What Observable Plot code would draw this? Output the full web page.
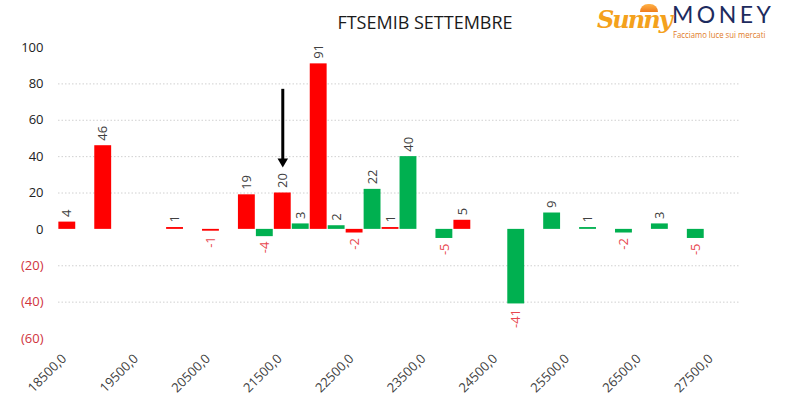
<!DOCTYPE html>
<html><head><meta charset="utf-8">
<script src="https://cdn.jsdelivr.net/npm/d3@7"></script>
<script src="https://cdn.jsdelivr.net/npm/@observablehq/plot@0.6"></script>
<style>
body{margin:0;background:#fff;font-family:"Open Sans",sans-serif}
#wrap{position:relative;width:785px;height:399px;overflow:hidden;background:#fff}
#chart{position:absolute;left:0;top:0}
#title{position:absolute;left:0;width:850px;top:10px;text-align:center;font-size:18px;color:#1a1a1a;z-index:2}
#sun{position:absolute;left:640px;top:4px;width:18px;height:8px;border-radius:9px 9px 0 0;background:linear-gradient(#ffb347,#f07c1c);z-index:2}
#sunny{position:absolute;left:597px;top:5px;font-family:"DejaVu Serif",serif;font-style:italic;font-weight:bold;font-size:24px;color:#f4a11c;letter-spacing:-2px;z-index:3}
#money{position:absolute;left:672px;top:0px;font-family:"Lato",sans-serif;font-size:23px;letter-spacing:3.5px;color:#1d2b5e;z-index:2}
#tag{position:absolute;left:673px;top:27.8px;font-family:"Open Sans",sans-serif;font-size:9px;color:#e07a1f;white-space:nowrap;transform:scaleX(0.86);transform-origin:0 0;z-index:2}
</style></head><body>
<div id="wrap">
<div id="title">FTSEMIB SETTEMBRE</div>
<div id="sun"></div>
<div id="sunny">Sunny</div>
<div id="money">MONEY</div>
<div id="tag">Facciamo luce sui mercati</div>
<div id="chart"></div>
</div>
<script>
// categories (strike prices, step 250)
const strikes = [18500,18750,19000,19250,19500,19750,20000,20250,20500,20750,21000,21250,21500,21750,22000,22250,22500,22750,23000,23250,23500,23750,24000,24250,24500,24750,25000,25250,25500,25750,26000,26250,26500,26750,27000,27250,27500,27750];
// x tick labels
const tickStrikes = [18500,19500,20500,21500,22500,23500,24500,25500,26500,27500];
const tickLabels = ["18500,0","19500,0","20500,0","21500,0","22500,0","23500,0","24500,0","25500,0","26500,0","27500,0"];
// red series
const redStrikes = [18500,19000,20000,20500,21000,21500,22000,22500,23000,24000];
const redValues  = [4,46,1,-1,19,20,91,-2,1,5];
// green series
const greenStrikes = [21250,21750,22250,22750,23250,23750,24750,25250,25750,26250,26750,27250];
const greenValues  = [-4,3,2,22,40,-5,-41,9,1,-2,3,-5];
// y ticks
const yTicksPos = [0,20,40,60,80,100];
const yTicksNeg = [-20,-40,-60];
const gridValues = [80,60,40,20,-20,-40];
// annotation arrow
const arrowStrike = [21500];
const arrowFrom = [77];
const arrowTo = [34];

const data = [
  ...redStrikes.map((s,i)=>({strike:s,value:redValues[i],series:"rosso"})),
  ...greenStrikes.map((s,i)=>({strike:s,value:greenValues[i],series:"verde"}))
];
const arrows = arrowStrike.map((s,i)=>({x:s,y1:arrowFrom[i],y2:arrowTo[i]}));

const chart = Plot.plot({
  width:785, height:399,
  marginLeft:58, marginRight:45, marginTop:47, marginBottom:61,
  style:{fontFamily:"Open Sans",fontSize:"13px",background:"transparent"},
  x:{type:"band",domain:strikes,paddingInner:0.06,paddingOuter:0.02},
  y:{domain:[-60,100]},
  color:{domain:["rosso","verde"],range:["#ff0000","#00b050"]},
  marks:[
    Plot.gridY(gridValues,{stroke:"#d0d0d0",strokeOpacity:1,strokeDasharray:"1.5,2"}),
    Plot.barY(data,{x:"strike",y:"value",fill:"series"}),
    Plot.text(data.filter(d=>d.value>=0),{x:"strike",y:"value",text:d=>String(d.value),rotate:-90,textAnchor:"start",dy:-5,fill:"#404040",fontSize:13}),
    Plot.text(data.filter(d=>d.value<0),{x:"strike",y:"value",text:d=>String(d.value),rotate:-90,textAnchor:"end",dy:5,fill:"#e8474f",fontSize:13}),
    Plot.ruleX(arrows,{x:"x",y1:"y1",y2:"y2",stroke:"#000",strokeWidth:3,insetBottom:7}),
    Plot.dot(arrows,{x:"x",y:"y2",symbol:"triangle",rotate:180,r:3.9,fill:"#000",stroke:null,dy:-6}),
    Plot.axisY(yTicksPos,{tickSize:0,tickPadding:15,fill:"#222",fontSize:13}),
    Plot.axisY(yTicksNeg,{tickSize:0,tickPadding:15,fill:"#d0343c",fontSize:13,tickFormat:d=>`(${-d})`}),
    Plot.axisX(tickStrikes,{tickSize:0,tickPadding:18,tickRotate:-45,fill:"#404040",fontSize:13,dx:-3,tickFormat:d=>tickLabels[tickStrikes.indexOf(d)],label:null})
  ]
});
document.getElementById("chart").appendChild(chart);
</script>
</body></html>
